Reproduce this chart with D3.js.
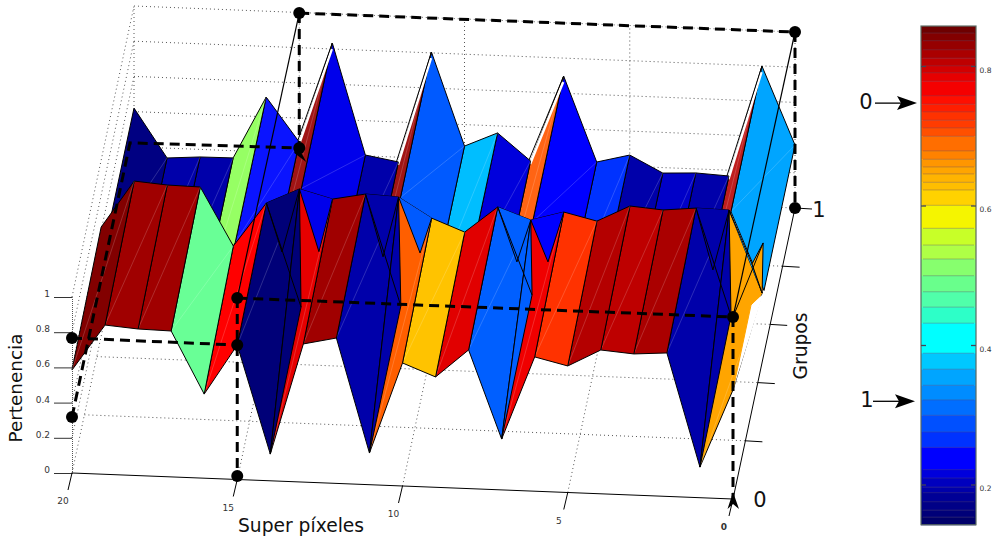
<!DOCTYPE html>
<html><head><meta charset="utf-8">
<style>html,body{margin:0;padding:0;background:#fff}svg{display:block}text{font-family:"DejaVu Sans",sans-serif}</style>
<script src="https://cdn.jsdelivr.net/npm/d3@7/dist/d3.min.js"></script></head><body>
<svg id="c" width="992" height="539"></svg>
<script>
const superPixels=[20,19,18,17,16,15,14,13,12,11,10,9,8,7,6,5,4,3,2,1,0];
const frontRow=[.585,.848,.833,.829,.478,.764,.152,.785,.826,.180,.699,.627,.788,.289,.763,.719,.817,.802,.815,.174,.62];
const ridgeRow=[.620,.889,.874,.870,.542,.794,.881,.831,.867,.857,.745,.673,.823,.756,.809,.765,.858,.843,.861,.857,.393];
const backRow=[.420,.144,.157,.159,.512,.264,.834,.205,.173,.805,.278,.360,.208,.698,.217,.264,.169,.177,.167,.799,.358];
const frontColors=["#820000","#a00000","#a00000","#69ff96","#ff0000","#000078","#e60000","#a00000","#0000aa","#ff5f00","#ffc300","#e10000","#005fff","#f00000","#ff3200","#b40000","#be0000","#aa0000","#0000aa","#ffa500"];
const backColors=["#000082","#0000aa","#0000aa","#96ff64","#0a14ff","#a01414","#0000eb","#0000aa","#a01414","#005aff","#00beff","#0000dc","#ff6414","#0000ff","#0032ff","#0000aa","#0000c8","#0000aa","#be1e1e","#00a5ff"];
const foldStart=[5,6,8,9,12,13,18,19];
const foldSp=[14.53,13.41,11.47,10.35,7.42,6.48,1.49,.306];
const foldZ=[.519,.529,.514,.544,.515,.522,.513,.556];
const foldColors=["#000078","#0000eb","#0000aa","#005aff","#005fff","#0000ff","#0000aa","#00a5ff"];
const wedgeStart=[5,8,12,18];
const wedgeSp=[13.07,10.05,6.08,.06];
const wedgeZ=[.994,1.022,1.114,1.04];
const zTicks=[0,.2,.4,.6,.8,1];
const spTicks=[20,15,10,5,0];
const gTicks=[0,.2,.4,.6,.8,1];
const bandEdges=[.858,.848,.837,.824,.812,.801,.791,.779,.758,.746,.735,.723,.712,.700,.679,.667,.656,.646,.634,.623,.601,.568,.544,.524,.500,.477,.455,.432,.389,.366,.343,.322,.300,.276,.254,.222,.210,.197,.189,.176,.164,.154,.143];
const bandColors=["#6e0000","#820000","#960000","#aa0000","#be0000","#d20000","#e60000","#f50000","#ff0f00","#ff1e00","#ff3200","#ff3c00","#ff5000","#ff6e00","#ff8200","#ff9600","#ffa500","#ffb400","#ffbe00","#ffd200","#f5f500","#c8ff28","#afff46","#87ff6e","#69ff8c","#50ffaa","#2dffc8","#00ffff","#00c8ff","#00a5ff","#008cff","#006eff","#0050ff","#0032ff","#0000ff","#0000dc","#0000be","#0000aa","#000096","#000087","#000078","#000069"];
const cbTicks=[.2,.4,.6,.8];
const guideDashed=[
 [[15,1,.997],[0,1,1]],[[0,1,1],[0,1,0]],[[15,1,.997],[15,1,.23]],
 [[15,0,1.031],[0,0,1.034]],[[15,0,1.031],[15,0,.02]],[[0,0,1.034],[0,0,.01]],
 [[20,0,.767],[15,0,.764]],[[20,0,.318],[20,.935,.33],[15,1,.23]]];
const guideSolid=[[[15,1,.997],[15,0,1.031]],[[0,1,1],[0,0,1.034]]];
const guideDots=[[15,1,.997],[0,1,1],[15,1,.23],[0,1,0],[20,0,.767],[20,0,.318],[15,0,.764],[15,0,1.031],[15,0,.02],[0,0,1.034]];

const svg=d3.select("#c");
const xSp=d3.scaleLinear().domain([0,20]).range([733,72]);
const ySp=d3.scaleLinear().domain([0,20]).range([499,473]);
const xG=d3.scaleLinear().domain([0,1]).range([0,62]);
const yG=d3.scaleLinear().domain([0,1]).range([0,-291]);
const yZ=d3.scaleLinear().domain([0,1]).range([0,-176]);
const P=(s,g,z)=>[xSp(s)+xG(g),ySp(s)+yG(g)+yZ(z)];
const line=d3.line();
const gA=0,gB=.47,gD=.5,gC=1;
const A=i=>P(superPixels[i],gA,frontRow[i]);
const B=i=>P(superPixels[i],gB,ridgeRow[i]);
const D=i=>P(superPixels[i],gD,backRow[i]);
const C=i=>P(superPixels[i],gC,backRow[i]);
const closed=pts=>line(pts)+"Z";

// grid
const grid=svg.append("g").attr("fill","none").attr("stroke","#555").attr("stroke-width",1).attr("stroke-dasharray","1 3");
const seg=(a,b)=>grid.append("path").attr("d",line([a,b]));
zTicks.forEach(z=>{seg(P(20,0,z),P(20,1,z));seg(P(20,1,z),P(0,1,z));});
spTicks.forEach(s=>{seg(P(s,1,0),P(s,1,1));if(s!==0&&s!==20)seg(P(s,0,0),P(s,1,0));});
gTicks.slice(1,5).forEach(g=>seg(P(20,g,0),P(0,g,0)));

// axes
const axes=svg.append("g");
const zScale=d3.scaleLinear().domain([0,1]).range([473,297]);
const zAxis=axes.append("g").attr("transform","translate(72,0)").call(d3.axisLeft(zScale).tickValues(zTicks).tickSize(18).tickFormat(d=>d));
zAxis.select(".domain").attr("stroke","#555").attr("stroke-dasharray","1 1");
zAxis.selectAll(".tick line").attr("stroke","#333");
zAxis.selectAll("text").attr("font-size",9).attr("fill","#333").attr("x",-22).attr("dy","-0.05em").style("font-family","DejaVu Sans");
axes.append("path").attr("d",line([P(20,0,0),P(0,0,0)])).attr("stroke","#000").attr("fill","none");
axes.append("path").attr("d",line([P(0,0,0),P(0,1,0)])).attr("stroke","#000").attr("fill","none");
spTicks.forEach(s=>{
  const p=P(s,0,0);
  axes.append("path").attr("d",line([p,[p[0]-4,p[1]+17]])).attr("stroke","#000");
  axes.append("text").attr("x",p[0]-9).attr("y",p[1]+31).attr("text-anchor","middle").attr("font-size",9).attr("fill","#333")
    .attr("font-weight",s===0?"bold":"normal").text(s);
});
gTicks.slice(1).forEach(g=>{
  const p=P(0,g,0);
  axes.append("path").attr("d",line([p,[p[0]+17,p[1]+1]])).attr("stroke","#000");
});

// surface: far-right column first, back strip under front strip
const surf=svg.append("g").attr("stroke","#000").attr("stroke-width",1).attr("stroke-linejoin","round");
const glint=(a,b,par)=>par.append("path").attr("d",line([a,b])).attr("fill","none").attr("stroke","#fff").attr("stroke-opacity",.22).attr("stroke-width",.8);
d3.range(19,-1,-1).forEach(i=>{
  surf.append("path").attr("d",closed([C(i),C(i+1),D(i+1),D(i)])).attr("fill",backColors[i]);
  glint(D(i),C(i+1),surf);
  if([5,8,12,18].includes(i)){
    const a=C(i),b=C(i+1);
    surf.append("path").attr("d",line([[a[0]-.5,a[1]+3],[b[0]-.5,b[1]+6]])).attr("stroke","#fff").attr("stroke-width",2.5).attr("fill","none");
    surf.append("path").attr("d",line([[a[0]-2,a[1]],[b[0],b[1]]])).attr("fill","none");
  }
});
d3.range(19,-1,-1).forEach(i=>{
  surf.append("path").attr("d",closed([A(i),A(i+1),B(i+1),B(i)])).attr("fill",frontColors[i]);
  glint(A(i),B(i+1),surf);
});
// corner pieces of the last column
const cornerLow=P(-.545,0,1.106), corner2=P(-.03,gB,.678);
surf.append("path").attr("d",closed([A(20),cornerLow,[B(20)[0]+1,B(20)[1]+1]])).attr("fill","#fff").attr("stroke","none");
// triangular folds where the back sheet cuts through the front sheet
foldStart.forEach((i,k)=>{
  const t=P(foldSp[k],gB,foldZ[k]);
  surf.append("path").attr("d",closed([B(i),t,B(i+1)])).attr("fill",foldColors[k]).attr("stroke","none");
  surf.append("path").attr("d",line([B(i),t,B(i+1)])).attr("fill","none");
});
surf.append("path").attr("d",closed([P(foldSp[7],gB,foldZ[7]),corner2,B(20)])).attr("fill",frontColors[19]);
surf.append("path").attr("d",line([P(0,0,1.034),corner2])).attr("fill","none");
// spike wedges: the low corner of a face rises to a vertical seam
wedgeStart.forEach((i,k)=>{
  const top=P(wedgeSp[k],0,wedgeZ[k]);
  surf.append("path").attr("d",closed([A(i+1),top,B(i+1)])).attr("fill",frontColors[i]);
  surf.append("path").attr("d",line([B(i),top])).attr("fill","none");
});
surf.append("path").attr("d",line([A(20),cornerLow,B(20)])).attr("fill","none").attr("stroke","#ffa500").attr("stroke-width",1);

// guide lines
const guides=svg.append("g").attr("fill","none").attr("stroke","#000");
guideSolid.forEach(l=>guides.append("path").attr("d",line(l.map(p=>P(...p)))).attr("stroke-width",1.2));
guideDashed.forEach(l=>{
  guides.append("path").attr("d",line(l.map(p=>P(...p)))).attr("stroke-width",3).attr("stroke-dasharray","10 6");
});
svg.append("g").selectAll("circle").data(guideDots).join("circle")
  .attr("cx",d=>P(...d)[0]).attr("cy",d=>P(...d)[1]).attr("r",6).attr("fill","#000");
const o=P(0,0,0);
svg.append("path").attr("d","M0,-8L-5.5,9L0,4L6,9Z").attr("transform",`translate(${o[0]},${o[1]+1})`).attr("fill","#000");
const q=P(15,1,.23);
svg.append("path").attr("d","M-3,-5L7,14L-5,5Z").attr("transform",`translate(${q[0]},${q[1]})`).attr("fill","#000");

// titles
const T=(x,y,s,size,rot)=>svg.append("text").attr("transform",`translate(${x},${y})`+(rot?` rotate(${rot})`:"")).attr("text-anchor","middle").attr("dominant-baseline","middle").attr("font-size",size).attr("fill","#111").text(s);
T(301,526,"Super píxeles",18.7);
T(17,388,"Pertenencia",18.4,-90);
T(801,346,"Grupos",18.7,-90);
T(760,501,"0",21);
T(819,211,"1",21);

// colorbar
const cb=d3.scaleLinear().domain([.2,.8]).range([485,66.5]);
const cbg=svg.append("g");
cbg.selectAll("rect.b").data(bandColors).join("rect").attr("class","b")
  .attr("x",921).attr("width",55).attr("y",(d,i)=>cb(bandEdges[i])).attr("height",(d,i)=>cb(bandEdges[i+1])-cb(bandEdges[i])+.5).attr("fill",d=>d);
cbg.selectAll("line.s").data(bandEdges.slice(1,-1)).join("line").attr("class","s")
  .attr("x1",923).attr("x2",974).attr("y1",d=>cb(d)).attr("y2",d=>cb(d)).attr("stroke","#5a4a6a").attr("stroke-opacity",.45).attr("stroke-width",.8);
cbg.append("rect").attr("x",921).attr("y",cb(bandEdges[0])).attr("width",55).attr("height",cb(bandEdges[42])-cb(bandEdges[0])).attr("fill","none").attr("stroke","#5a6a62").attr("stroke-width",1.2);
const cbAx=cbg.append("g").attr("transform","translate(976,0)").call(d3.axisRight(cb).tickValues(cbTicks).tickSize(0).tickFormat(d3.format(".1f")));
cbAx.select(".domain").remove();
cbAx.selectAll("text").attr("x",3.5).attr("dy","0.75em").attr("font-size",7.5).attr("fill","#333").style("font-family","DejaVu Sans");
cbTicks.forEach(v=>{[[921,926],[971,976]].forEach(r=>cbg.append("line").attr("x1",r[0]).attr("x2",r[1]).attr("y1",cb(v)).attr("y2",cb(v)).attr("stroke","#445").attr("stroke-width",1.3));});

// arrows to the colorbar
const arrows=[{label:"0",v:.7475,x:866,a:875,b:917},{label:"1",v:.32,x:867,a:873,b:915}];
arrows.forEach(d=>{
  const y=cb(d.v);
  T(d.x,y,d.label,21);
  svg.append("path").attr("d",line([[d.a,y],[d.b-10,y]])).attr("stroke","#000").attr("stroke-width",1.3);
  svg.append("path").attr("d",`M${d.b},${y}L${d.b-20},${y-7}L${d.b-16},${y}L${d.b-20},${y+7}Z`).attr("fill","#000");
});
</script></body></html>
